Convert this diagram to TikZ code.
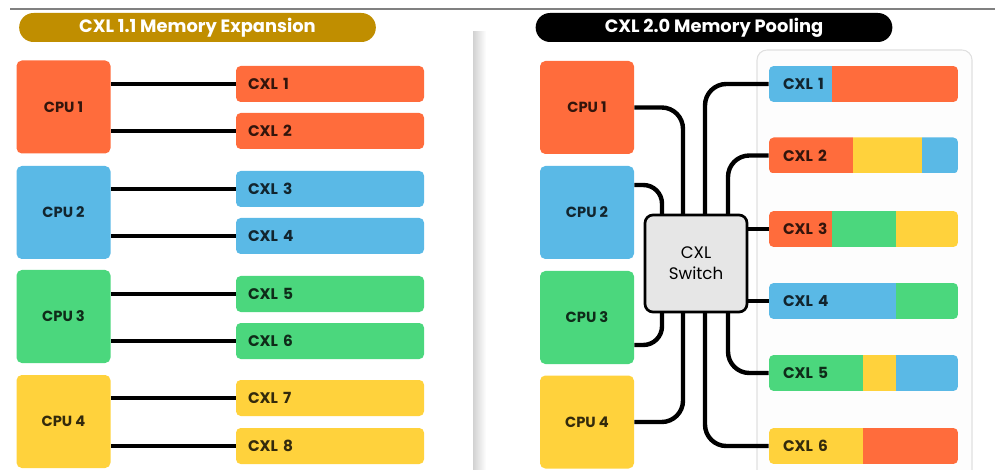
\documentclass[tikz,border=0pt]{standalone}
\usepackage{fontspec}
\setmainfont{Poppins}
\usepackage{tikz}
\usepackage{xcolor}

\definecolor{memorange}{HTML}{FF6C3C}
\definecolor{memblue}{HTML}{5AB9E6}
\definecolor{memgreen}{HTML}{4BD77D}
\definecolor{memyellow}{HTML}{FFD23C}
\definecolor{titlegold}{HTML}{C08E00}
\definecolor{switchgray}{HTML}{E6E6E6}

\begin{document}
\begin{tikzpicture}[x=0.75pt,y=0.75pt,yscale=-1,xscale=1,
  titlepill/.style={fill=#1, rounded corners=10.8pt, minimum width=267.5pt, minimum height=21.75pt,
    inner sep=0pt, text=white, font=\bfseries\fontsize{13.4}{15}\selectfont},
  cpubox/.style={fill=#1, rounded corners=4pt, minimum width=70.5pt, minimum height=69.75pt,
    inner sep=0pt, text=black, text opacity=0.8, font=\bfseries\fontsize{11}{13}\selectfont},
  cxlbox/.style={fill=#1, rounded corners=3.5pt, minimum height=27pt, text width=123pt,
    inner xsep=9pt, inner ysep=0pt, align=left, text=black, text opacity=0.8,
    font=\bfseries\fontsize{11.5}{13}\selectfont},
  poolbar/.style={minimum height=27pt, text width=120.75pt, inner xsep=10.5pt, inner ysep=0pt,
    align=left, text=black, text opacity=0.8, font=\bfseries\fontsize{11.5}{13}\selectfont},
  wireA/.style={line width=2.6pt},
  wireB/.style={line width=3.3pt, rounded corners=#1},
  wireB/.default=16pt
]
\useasboundingbox (0,0) rectangle (999,470);

%Top rule
\draw [gray, line width=1.5pt] (10,9) -- (995,9) ;

%Shadow of the left panel
\shade [left color=black!18, right color=white] (473,32) rectangle (486,470) ;

%Pool frame
\fill [black!0.6, rounded corners=7.5pt] (757,470) -- (757,50) -- (972,50) -- (972,470) ;
\draw [black!12, line width=0.8pt, rounded corners=7.5pt] (757,470) -- (757,50) -- (972,50) -- (972,470) ;

% Title Nodes
\node [titlepill=titlegold] (titleA) at (197.5,27.5) {CXL 1.1 Memory Expansion};
\node [titlepill=black] (titleB) at (714,27.5) {CXL 2.0 Memory Pooling};

%CXL 1.1 : CPUs
\node [cpubox=memorange] (cpuA1) at (63.5,107) {CPU 1};
\node [cpubox=memblue] (cpuA2) at (63.5,212.5) {CPU 2};
\node [cpubox=memgreen] (cpuA3) at (63.5,316.5) {CPU 3};
\node [cpubox=memyellow] (cpuA4) at (63.5,421.5) {CPU 4};

%CXL 1.1 : memory devices
\node [cxlbox=memorange] (cxlA1) at (330,84) {CXL 1};
\node [cxlbox=memorange] (cxlA2) at (330,131) {CXL 2};
\node [cxlbox=memblue] (cxlA3) at (330,189) {CXL 3};
\node [cxlbox=memblue] (cxlA4) at (330,236) {CXL 4};
\node [cxlbox=memgreen] (cxlA5) at (330,294) {CXL 5};
\node [cxlbox=memgreen] (cxlA6) at (330,341) {CXL 6};
\node [cxlbox=memyellow] (cxlA7) at (330,398) {CXL 7};
\node [cxlbox=memyellow] (cxlA8) at (330,446) {CXL 8};

%Straight Lines
\draw [wireA] (cpuA1.east |- cxlA1) -- (cxlA1) ;
\draw [wireA] (cpuA1.east |- cxlA2) -- (cxlA2) ;
\draw [wireA] (cpuA2.east |- cxlA3) -- (cxlA3) ;
\draw [wireA] (cpuA2.east |- cxlA4) -- (cxlA4) ;
\draw [wireA] (cpuA3.east |- cxlA5) -- (cxlA5) ;
\draw [wireA] (cpuA3.east |- cxlA6) -- (cxlA6) ;
\draw [wireA] (cpuA4.east |- cxlA7) -- (cxlA7) ;
\draw [wireA] (cpuA4.east |- cxlA8) -- (cxlA8) ;

%CXL 2.0 : CPUs
\node [cpubox=memorange] (cpuB1) at (587,107.5) {CPU 1};
\node [cpubox=memblue] (cpuB2) at (587,212.5) {CPU 2};
\node [cpubox=memgreen] (cpuB3) at (587,317.5) {CPU 3};
\node [cpubox=memyellow] (cpuB4) at (587,422) {CPU 4};

%CXL 2.0 : shared memory bars
\begin{scope}
\clip [rounded corners=3.5pt] (769,66) rectangle (958,102) ;
\fill [memblue] (769,66) rectangle (832,102) ;
\fill [memorange] (832,66) rectangle (958,102) ;
\end{scope}
\begin{scope}
\clip [rounded corners=3.5pt] (769,137.5) rectangle (958,173.5) ;
\fill [memorange] (769,137.5) rectangle (853,173.5) ;
\fill [memyellow] (853,137.5) rectangle (922,173.5) ;
\fill [memblue] (922,137.5) rectangle (958,173.5) ;
\end{scope}
\begin{scope}
\clip [rounded corners=3.5pt] (769,211) rectangle (958,247) ;
\fill [memorange] (769,211) rectangle (832,247) ;
\fill [memgreen] (832,211) rectangle (896,247) ;
\fill [memyellow] (896,211) rectangle (958,247) ;
\end{scope}
\begin{scope}
\clip [rounded corners=3.5pt] (769,283) rectangle (958,319) ;
\fill [memblue] (769,283) rectangle (896,319) ;
\fill [memgreen] (896,283) rectangle (958,319) ;
\end{scope}
\begin{scope}
\clip [rounded corners=3.5pt] (769,355) rectangle (958,391) ;
\fill [memgreen] (769,355) rectangle (863,391) ;
\fill [memyellow] (863,355) rectangle (896,391) ;
\fill [memblue] (896,355) rectangle (958,391) ;
\end{scope}
\begin{scope}
\clip [rounded corners=3.5pt] (769,428) rectangle (958,464) ;
\fill [memyellow] (769,428) rectangle (863,464) ;
\fill [memorange] (863,428) rectangle (958,464) ;
\end{scope}

\node [poolbar] (cxlB1) at (863.5,84) {CXL 1};
\node [poolbar] (cxlB2) at (863.5,155.5) {CXL 2};
\node [poolbar] (cxlB3) at (863.5,229) {CXL 3};
\node [poolbar] (cxlB4) at (863.5,301) {CXL 4};
\node [poolbar] (cxlB5) at (863.5,373) {CXL 5};
\node [poolbar] (cxlB6) at (863.5,446) {CXL 6};

%Switch ports
\coordinate (swN1) at (662,215);
\coordinate (swN2) at (683,215);
\coordinate (swN3) at (705,215);
\coordinate (swN4) at (728,215);
\coordinate (swS1) at (662,312);
\coordinate (swS2) at (683,312);
\coordinate (swS3) at (705,312);
\coordinate (swS4) at (728,312);

%Bent Lines
\draw [wireB] (cpuB1.east) -| (swN2) ;
\draw [wireB=14pt] (cpuB2.east |- 0,185) -| (swN1) ;
\draw [wireB=14pt] (cpuB3.east |- 0,345) -| (swS1) ;
\draw [wireB] (cpuB4.east) -| (swS2) ;
\draw [wireB] (swN3) |- (cxlB1) ;
\draw [wireB] (swN4) |- (cxlB2) ;
\draw [wireB] (swS4) |- (cxlB5) ;
\draw [wireB] (swS3) |- (cxlB6) ;

% Switch Node
\node [fill=switchgray, draw=black, line width=2pt, rounded corners=6pt, minimum width=76.5pt,
  minimum height=72.75pt, align=center, font=\fontsize{12.5}{16}\selectfont] (sw) at (696,263.5) {CXL\\Switch};

%Straight Lines
\draw [wireB] (sw.east |- cxlB3) -- (cxlB3) ;
\draw [wireB] (sw.east |- cxlB4) -- (cxlB4) ;

\end{tikzpicture}
\end{document}
